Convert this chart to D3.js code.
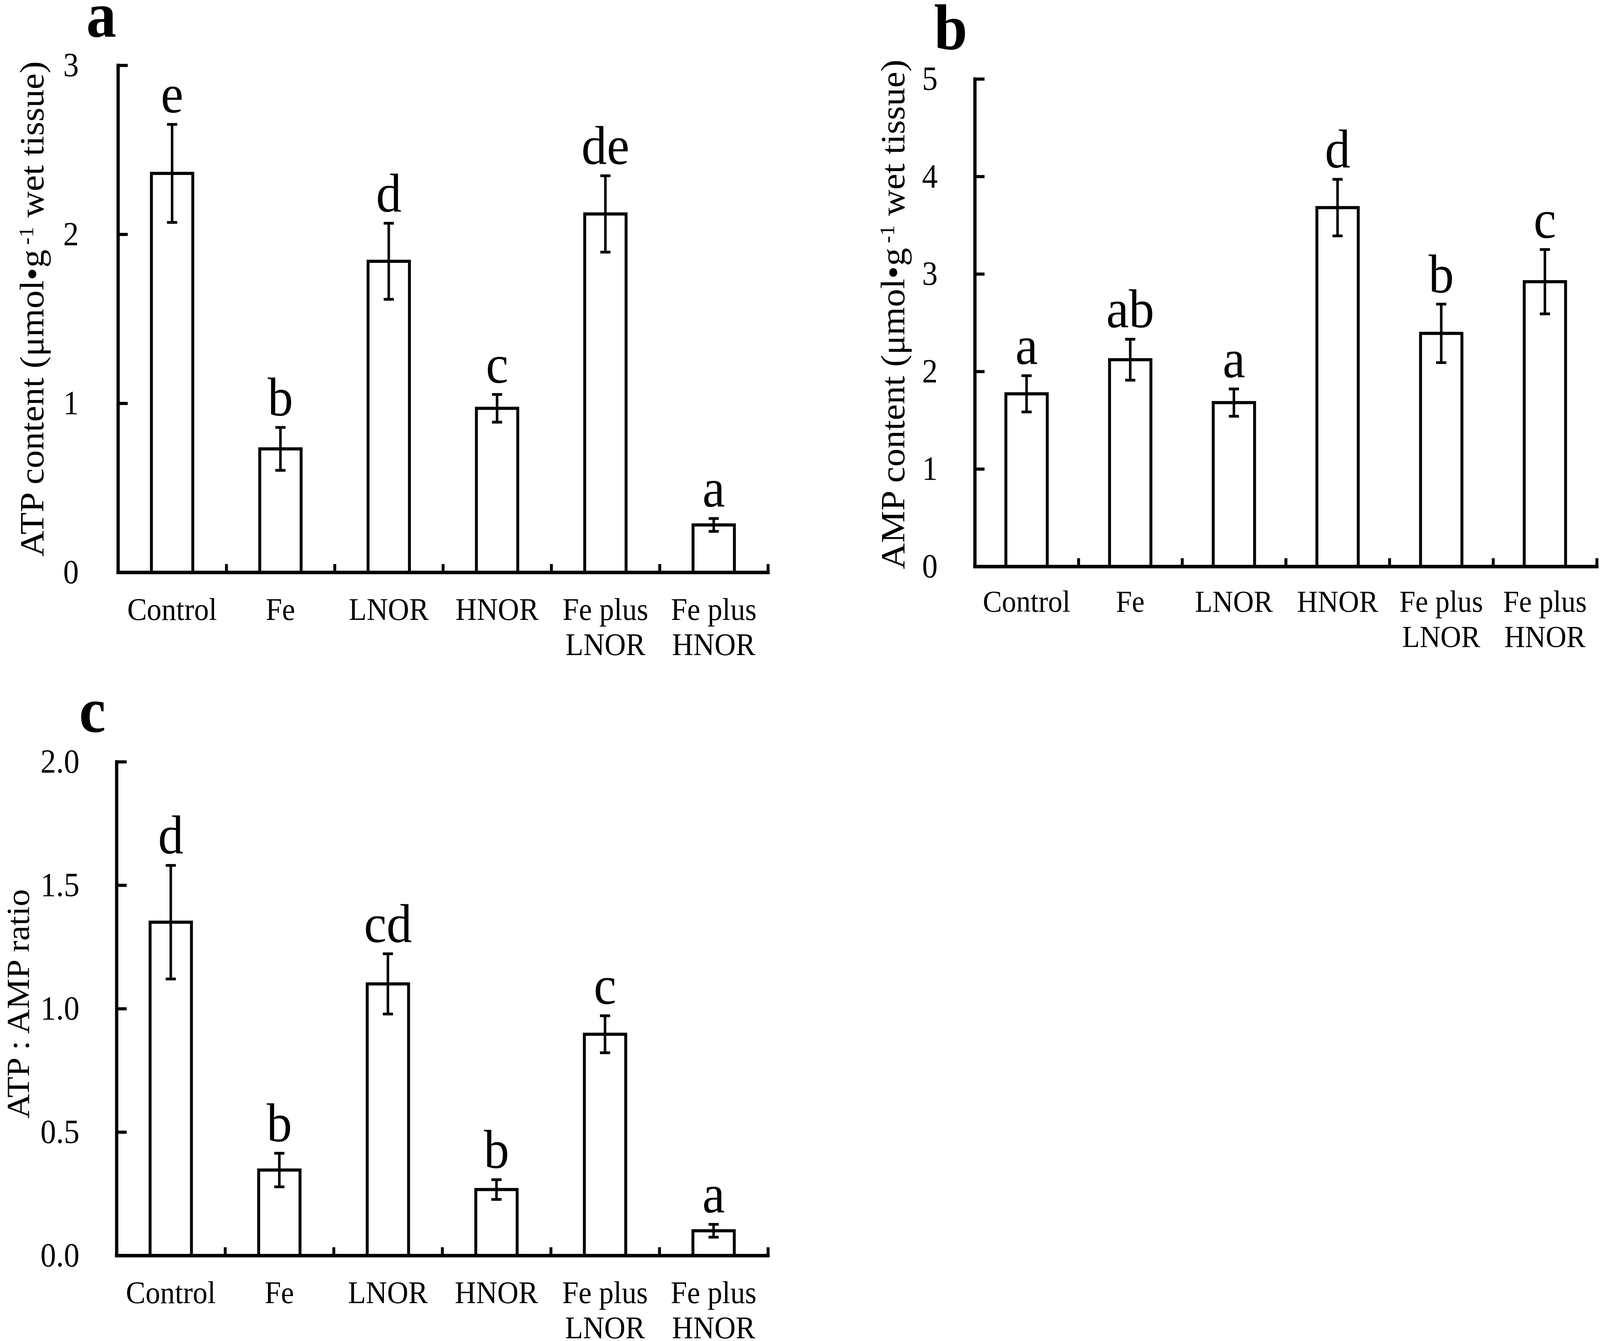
<!DOCTYPE html>
<html>
<head>
<meta charset="utf-8">
<script src="https://cdn.jsdelivr.net/npm/d3@7/dist/d3.min.js"></script>
<style>
  html, body { margin: 0; padding: 0; background: #fff; width: 100%; height: 100%; overflow: hidden; }
  svg { display: block; width: 100vw; height: 100vh; }
</style>
</head>
<body>
<script>
// ---------------- DATA ----------------
const categories = ["Control", "Fe", "LNOR", "HNOR", "Fe plus LNOR", "Fe plus HNOR"];
const categoryLines = [["Control"], ["Fe"], ["LNOR"], ["HNOR"], ["Fe plus", "LNOR"], ["Fe plus", "HNOR"]];

const atpMean    = [2.36, 0.73, 1.84, 0.97, 2.12, 0.28];
const atpErr     = [0.29, 0.127, 0.225, 0.082, 0.226, 0.038];
const atpLetters = ["e", "b", "d", "c", "de", "a"];
const atpTicks   = [0, 1, 2, 3];

const ampMean    = [1.77, 2.12, 1.68, 3.68, 2.39, 2.92];
const ampErr     = [0.186, 0.21, 0.14, 0.29, 0.30, 0.33];
const ampLetters = ["a", "ab", "a", "d", "b", "c"];
const ampTicks   = [0, 1, 2, 3, 4, 5];

const ratioMean    = [1.35, 0.346, 1.10, 0.267, 0.896, 0.10];
const ratioErr     = [0.23, 0.068, 0.122, 0.04, 0.075, 0.026];
const ratioLetters = ["d", "b", "cd", "b", "c", "a"];
const ratioTicks   = [0, 0.5, 1.0, 1.5, 2.0];

// ---------------- DRAWING ----------------
const W = 4409, H = 3433;
const FONT = "'Liberation Serif', 'Times New Roman', Times, serif";

const svg = d3.select("body").append("svg")
  .attr("viewBox", `0 0 ${W} ${H}`)
  .attr("preserveAspectRatio", "none")
  .style("background", "#fff");

function drawPanel(cfg) {
  const g = svg.append("g");
  const n = categories.length;

  const x = d3.scaleBand().domain(categories)
    .range([cfg.x0, cfg.x1])
    .paddingInner(cfg.pad).paddingOuter(cfg.pad / 2);
  const xb = d3.scaleLinear().domain([0, n]).range([cfg.x0, cfg.x1]);
  const y = d3.scaleLinear().domain([0, cfg.max]).range([cfg.yBottom, cfg.yTop]);

  // bars
  g.append("g").selectAll("rect").data(cfg.mean).join("rect")
    .attr("x", (d, i) => x(categories[i]))
    .attr("y", d => y(d))
    .attr("width", x.bandwidth())
    .attr("height", d => y(0) - y(d))
    .attr("fill", "#fff")
    .attr("stroke", "#000")
    .attr("stroke-width", 8);

  // error bars
  const cx = i => x(categories[i]) + x.bandwidth() / 2;
  const eb = g.append("g").attr("stroke", "#000").attr("stroke-width", 7);
  cfg.mean.forEach((m, i) => {
    const e = cfg.err[i];
    eb.append("line").attr("x1", cx(i)).attr("x2", cx(i)).attr("y1", y(m + e)).attr("y2", y(m - e));
    eb.append("line").attr("x1", cx(i) - 14).attr("x2", cx(i) + 14).attr("y1", y(m + e)).attr("y2", y(m + e));
    eb.append("line").attr("x1", cx(i) - 14).attr("x2", cx(i) + 14).attr("y1", y(m - e)).attr("y2", y(m - e));
  });

  // significance letters
  g.append("g").selectAll("text").data(cfg.letters).join("text")
    .attr("x", (d, i) => cx(i))
    .attr("y", (d, i) => y(cfg.mean[i] + cfg.err[i]) - 30)
    .attr("text-anchor", "middle")
    .attr("font-family", FONT)
    .attr("font-size", 140)
    .attr("fill", "#000")
    .text(d => d);

  // y axis
  const yAxis = d3.axisLeft(y).tickValues(cfg.ticks).tickFormat(cfg.fmt)
    .tickSizeInner(-cfg.tickLen).tickSizeOuter(0).tickPadding(cfg.labelGap);
  const ya = g.append("g").attr("transform", `translate(${cfg.x0},0)`).call(yAxis);
  ya.attr("font-family", FONT).attr("font-size", 86);
  ya.select(".domain").attr("stroke-width", 9).attr("stroke-linecap", "square");
  ya.selectAll(".tick line").attr("stroke-width", 8);
  ya.selectAll(".tick text").attr("fill", "#000");

  // x axis (boundary ticks)
  const xAxis = d3.axisBottom(xb).tickValues(d3.range(1, n + 1)).tickFormat("")
    .tickSizeInner(-21).tickSizeOuter(0);
  const xa = g.append("g").attr("transform", `translate(0,${y(0)})`).call(xAxis);
  xa.select(".domain").attr("stroke-width", 9).attr("stroke-linecap", "square");
  xa.selectAll(".tick line").attr("stroke-width", 8);

  // category labels
  const lab = g.append("g").attr("transform", `translate(0,${y(0)})`)
    .call(d3.axisBottom(x).tickSize(0).tickPadding(0));
  lab.select(".domain").remove();
  lab.attr("font-family", FONT).attr("font-size", cfg.catSize);
  lab.selectAll(".tick text").each(function (d, i) {
    const t = d3.select(this);
    t.text(null).attr("y", cfg.labelOffset).attr("dy", null).attr("fill", "#000");
    categoryLines[i].forEach((ln, j) => {
      t.append("tspan").attr("x", 0).attr("dy", j ? cfg.lineH : 0).text(ln);
    });
  });

  // y title
  const tt = g.append("text")
    .attr("transform", `translate(${cfg.titleX},${cfg.titleY}) rotate(-90)`)
    .attr("text-anchor", "middle")
    .attr("font-family", FONT)
    .attr("font-size", cfg.titleSize)
    .attr("fill", "#000");
  cfg.title.forEach(part => {
    const ts = tt.append("tspan").text(part.t);
    if (part.sup) {
      ts.attr("font-size", cfg.titleSize * 0.6).attr("dy", -28).attr("dx", 12);
    } else if (part.after) {
      ts.attr("dy", 28);
    }
  });

  // panel label
  g.append("text")
    .attr("x", cfg.labX).attr("y", cfg.labY)
    .attr("font-family", FONT)
    .attr("font-weight", "bold")
    .attr("font-size", 165)
    .attr("fill", "#000")
    .text(cfg.label);
}

drawPanel({
  label: "a", labX: 238, labY: 94,
  x0: 325, x1: 2116, pad: 1 - 114 / 298.5,
  yBottom: 1465, yTop: 167, max: 3,
  mean: atpMean, err: atpErr, letters: atpLetters,
  ticks: atpTicks, fmt: d3.format("d"),
  tickLen: 27, labelGap: 108,
  catSize: 81, labelOffset: 122, lineH: 90,
  titleX: 120, titleY: 791, titleSize: 93,
  title: [{t: "ATP content (μmol•g"}, {t: "-1", sup: true}, {t: " wet tissue)", after: true}]
});

drawPanel({
  label: "b", labX: 2574, labY: 126,
  x0: 2686, x1: 4400, pad: 1 - 114 / 285.7,
  yBottom: 1450, yTop: 202, max: 5,
  mean: ampMean, err: ampErr, letters: ampLetters,
  ticks: ampTicks, fmt: d3.format("d"),
  tickLen: 27, labelGap: 102,
  catSize: 79, labelOffset: 116, lineH: 90,
  titleX: 2492, titleY: 805, titleSize: 93,
  title: [{t: "AMP content (μmol•g"}, {t: "-1", sup: true}, {t: " wet tissue)", after: true}]
});

drawPanel({
  label: "c", labX: 218, labY: 1873,
  x0: 321, x1: 2116, pad: 1 - 114 / 299.2,
  yBottom: 3214, yTop: 1950, max: 2,
  mean: ratioMean, err: ratioErr, letters: ratioLetters,
  ticks: ratioTicks, fmt: d3.format(".1f"),
  tickLen: 28, labelGap: 102,
  catSize: 81, labelOffset: 122, lineH: 90,
  titleX: 80, titleY: 2570, titleSize: 88,
  title: [{t: "ATP : AMP ratio"}]
});
</script>
</body>
</html>
